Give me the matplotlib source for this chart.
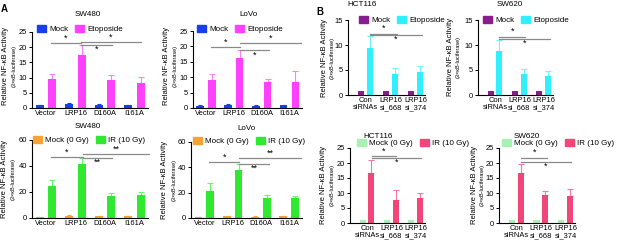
import numpy as np
import matplotlib.pyplot as plt
from matplotlib.patches import Patch

plt.rcParams['font.family'] = ['Liberation Sans', 'DejaVu Sans']

W, H = 617, 244

# ---- data ----
cats_a = ['Vector', 'LRP16', 'D160A', 'I161A']
cats_b = ['Con\nsiRNAs', 'LRP16\nsi_668', 'LRP16\nsi_374']

sw480_eto_mock = [1.0, 1.3, 1.0, 0.9]
sw480_eto_mock_err = [0.1, 0.3, 0.3, 0.2]
sw480_eto = [9.7, 17.5, 9.3, 8.3]
sw480_eto_err = [1.4, 3.2, 1.5, 1.8]

lovo_eto_mock = [0.8, 1.1, 0.8, 0.9]
lovo_eto_mock_err = [0.1, 0.3, 0.2, 0.2]
lovo_eto = [9.0, 16.2, 8.5, 8.5]
lovo_eto_err = [2.0, 2.6, 0.8, 3.4]

sw480_ir_mock = [0.8, 1.8, 1.2, 1.2]
sw480_ir_mock_err = [0.2, 0.4, 0.3, 0.3]
sw480_ir = [25.0, 41.5, 17.0, 18.0]
sw480_ir_err = [4.0, 5.0, 2.5, 2.0]

lovo_ir_mock = [0.8, 1.5, 1.0, 1.2]
lovo_ir_mock_err = [0.2, 0.3, 0.2, 0.3]
lovo_ir = [21.0, 38.0, 16.0, 15.5]
lovo_ir_err = [7.0, 5.0, 2.0, 2.0]

hct_eto_mock = [0.9, 0.8, 0.8]
hct_eto = [9.4, 4.3, 4.6]
hct_eto_err = [2.5, 1.2, 1.2]

sw620_eto_mock = [0.9, 0.8, 0.8]
sw620_eto = [8.9, 4.2, 3.9]
sw620_eto_err = [2.1, 1.1, 0.9]

hct_ir_mock = [0.9, 0.9, 0.9]
hct_ir = [16.8, 7.6, 8.3]
hct_ir_err = [4.2, 3.3, 1.6]

sw620_ir_mock = [0.9, 0.9, 0.9]
sw620_ir = [16.6, 9.5, 9.0]
sw620_ir_err = [3.2, 1.2, 2.2]

fig = plt.figure(figsize=(W / 100, H / 100), dpi=100)

FS = 5.4  # base font size


def fx(x):
    return x / W


def fy(y):
    return 1 - y / H


def panel(rect, cats, mock, treat, treat_err, mock_err, colors, ymax, ystep,
          xlim, off, bw, brackets):
    l, t, r, b = rect
    ax = fig.add_axes([fx(l), fy(b), fx(r - l), (b - t) / H])
    x = np.arange(len(cats))
    ax.bar(x - off, mock, bw, color=colors[0], zorder=2)
    ax.bar(x + off, treat, bw, color=colors[1], zorder=2)
    if mock_err is not None:
        ax.errorbar(x - off, mock, yerr=[np.zeros(len(cats)), mock_err], fmt='none',
                    ecolor=colors[0], elinewidth=0.8, capsize=1.5, capthick=0.8, zorder=1)
    ax.errorbar(x + off, treat, yerr=[np.zeros(len(cats)), treat_err], fmt='none',
                ecolor=colors[2], elinewidth=0.8, capsize=2, capthick=0.8, zorder=1)
    ax.set_xlim(*xlim)
    ax.set_ylim(0, ymax)
    ax.set_yticks(np.arange(0, ymax + 0.1, ystep))
    ax.set_xticks(x)
    ax.set_xticklabels(cats, fontsize=FS, linespacing=1.05)
    ax.tick_params(axis='y', labelsize=FS, length=2.5, width=0.7, pad=1)
    ax.tick_params(axis='x', length=0, pad=1.5)
    for s in ['top', 'right']:
        ax.spines[s].set_visible(False)
    for s in ['left', 'bottom']:
        ax.spines[s].set_linewidth(0.8)
    for x1, x2, y, txt, above in brackets:
        ax.plot([x1, x2], [y, y], color='#8a8a8a', lw=0.9, clip_on=False, zorder=3)
        yt = y + ymax * 0.005 if above else y - ymax * 0.12
        ax.text((x1 + x2) / 2, yt, txt, ha='center', va='bottom', fontsize=6.5)
    return ax


def ylabel(x1, x2, yc):
    fig.text(fx(x1), fy(yc), 'Relative NF-\u03baB Activity', rotation=90,
             ha='center', va='center', fontsize=5.5)
    fig.text(fx(x2), fy(yc), '(3\u00d7\u03baB-luciferase)', rotation=90,
             ha='center', va='center', fontsize=4.0)


def legend(x, y, labels, colors):
    handles = [Patch(color=c) for c in colors]
    fig.legend(handles, labels, loc='center left', bbox_to_anchor=(fx(x), fy(y)),
               ncol=2, frameon=False, fontsize=5.8, handlelength=1.1,
               handleheight=1.1, handletextpad=0.4, columnspacing=0.9,
               borderpad=0, borderaxespad=0)


def title(x, y, s):
    fig.text(fx(x), fy(y), s, ha='center', va='center', fontsize=5.8)


c_eto_a = ['#1a3ee8', '#ff40ff', '#ff80ff']
c_ir_a = ['#f6a234', '#30e830', '#70f070']
c_eto_b = ['#8b1c8f', '#30f0ff', '#70f4ff']
c_ir_b = ['#a8f0b4', '#f2457a', '#f47aa0']

xa = (-0.47, 3.45)
xb = (-0.7, 2.38)

# ---- panel A ----
panel((32, 32, 148, 108), cats_a, sw480_eto_mock, sw480_eto, sw480_eto_err,
      sw480_eto_mock_err, c_eto_a, 25, 5, xa, 0.21, 0.27,
      [(0.16, 1.19, 21.4, '*', True), (1.19, 3.2, 21.8, '*', True),
       (1.19, 2.22, 20.7, '*', False)])
panel((193, 31, 302, 108), cats_a, lovo_eto_mock, lovo_eto, lovo_eto_err,
      lovo_eto_mock_err, c_eto_a, 25, 5, xa, 0.21, 0.27,
      [(0.18, 1.23, 19.7, '*', True), (1.23, 3.4, 21.0, '*', True),
       (1.23, 2.28, 18.8, '*', False)])
panel((32, 140, 148, 218), cats_a, sw480_ir_mock, sw480_ir, sw480_ir_err,
      sw480_ir_mock_err, c_ir_a, 60, 20, xa, 0.21, 0.27,
      [(0.16, 1.25, 47.0, '*', True), (1.25, 3.5, 49.0, '**', True),
       (1.25, 2.22, 46.4, '**', False)])
panel((191, 142, 302, 218), cats_a, lovo_ir_mock, lovo_ir, lovo_ir_err,
      lovo_ir_mock_err, c_ir_a, 60, 20, xa, 0.21, 0.27,
      [(0.18, 1.23, 44.3, '*', True), (1.23, 3.4, 47.5, '**', True),
       (1.23, 2.28, 43.0, '**', False)])

ylabel(6, 14, 66)
ylabel(167, 175, 66)
ylabel(5, 13, 179)
ylabel(165, 174, 180)

legend(37, 29, ['Mock', 'Etoposide'], c_eto_a[:2])
legend(197, 29, ['Mock', 'Etoposide'], c_eto_a[:2])
legend(33, 140, ['Mock (0 Gy)', 'IR (10 Gy)'], c_ir_a[:2])
legend(193, 141, ['Mock (0 Gy)', 'IR (10 Gy)'], c_ir_a[:2])

title(88, 15, 'SW480')
title(248, 15, 'LoVo')
title(88, 127, 'SW480')
title(247, 128, 'LoVo')

# ---- panel B ----
panel((348, 20, 425, 95), cats_b, hct_eto_mock, hct_eto, hct_eto_err, None,
      c_eto_b, 15, 5, xb, 0.18, 0.25,
      [(0.18, 1.25, 12.3, '*', True), (0.18, 2.25, 12.1, '*', False)])
panel((478, 20, 553, 95), cats_b, sw620_eto_mock, sw620_eto, sw620_eto_err, None,
      c_eto_b, 15, 5, xb, 0.18, 0.25,
      [(0.18, 1.25, 11.7, '*', True), (0.18, 2.25, 11.3, '*', False)])
panel((350, 148, 425, 223), cats_b, hct_ir_mock, hct_ir, hct_ir_err, None,
      c_ir_b, 25, 5, xb, 0.18, 0.25,
      [(0.2, 1.2, 22.3, '*', True), (0.2, 2.2, 21.8, '*', False)])
panel((499, 148, 575, 223), cats_b, sw620_ir_mock, sw620_ir, sw620_ir_err, None,
      c_ir_b, 25, 5, xb, 0.18, 0.25,
      [(0.2, 1.25, 21.8, '*', True), (0.2, 2.2, 20.4, '*', False)])

ylabel(325, 332, 58)
ylabel(451, 458, 57)
ylabel(324, 332, 185)
ylabel(474, 482, 185)

legend(359, 20, ['Mock', 'Etoposide'], c_eto_b[:2])
legend(483, 20, ['Mock', 'Etoposide'], c_eto_b[:2])
legend(357, 143, ['Mock (0 Gy)', 'IR (10 Gy)'], c_ir_b[:2])
legend(502, 143, ['Mock (0 Gy)', 'IR (10 Gy)'], c_ir_b[:2])

title(362, 4, 'HCT116')
title(510, 4, 'SW620')
title(378, 136, 'HCT116')
title(527, 136, 'SW620')

fig.text(fx(1), fy(9), 'A', fontsize=7, fontweight='bold', va='center')
fig.text(fx(316), fy(12), 'B', fontsize=7, fontweight='bold', va='center')

plt.savefig('out.png', dpi=100)
